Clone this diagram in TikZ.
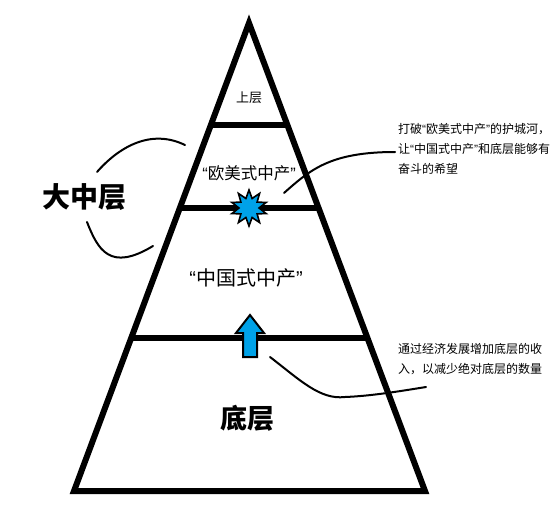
\documentclass[tikz,border=0pt]{standalone}
\usepackage{fontspec}
\setmainfont{Noto Sans CJK SC}
\newfontfamily\cjk{Noto Sans CJK SC}
\newfontfamily\latinq{Liberation Sans}
\newcommand{\oq}{{\latinq “}}
\newcommand{\cq}{{\latinq ”}}
\definecolor{starblue}{HTML}{00A2E8}
\begin{document}
\begin{tikzpicture}[x=1pt,y=-1pt,
  thick line/.style={line width=6pt},
  curve/.style={line width=2pt, line cap=round},
  lbl/.style={inner sep=0pt, font=\cjk},
  note/.style={inner sep=0pt, font=\cjk\fontsize{12}{20}\selectfont, align=left, anchor=north west}]
\useasboundingbox (0,0) rectangle (553,505);
% triangle
\coordinate (A) at (249,23);
\coordinate (BL) at (74,491);
\coordinate (BR) at (425,491);
\draw[thick line, line join=miter, miter limit=20] (A) -- (BR) -- (BL) -- cycle;
% level lines
\coordinate (L1l) at (211,125); \coordinate (L1r) at (287,125);
\coordinate (L2l) at (180,208); \coordinate (L2r) at (318,208);
\coordinate (L3l) at (131,338); \coordinate (L3r) at (367,338);
\draw[thick line] (L1l) -- (L1r);
\draw[thick line] (L2l) -- (L2r);
\draw[thick line] (L3l) -- (L3r);
% labels
\node[lbl, font=\cjk\fontsize{13}{13}\selectfont] (top) at (249,98) {上层};
\node[lbl, font=\cjk\fontsize{16.5}{16.5}\selectfont] (euro) at (249,173) {\oq 欧美式中产\cq};
\node[lbl, font=\cjk\fontsize{20}{20}\selectfont] (china) at (246,278) {\oq 中国式中产\cq};
\node[lbl, font=\cjk\bfseries\fontsize{27}{27}\selectfont] (bottom) at (247,418) {底层};
\node[lbl, font=\cjk\bfseries\fontsize{28}{28}\selectfont] (big) at (84,197) {大中层};
% starburst
\coordinate (S) at (249,208);
\draw[fill=starblue, draw=black, line width=1.6pt, line join=miter, shift={(S)}]
  (90:18) \foreach \i [evaluate=\i as \r using {mod(\i,2)==0 ? 18 : 10}] in {1,...,19} { -- ({90+\i*18}:\r) } -- cycle;
% arrow
\coordinate (Ar) at (250,336);
\draw[fill=starblue, draw=black, line width=2pt, line join=miter]
  (243,357) -- (243,333) -- (236,333) -- (250,315) -- (264,333) -- (257,333) -- (257,357) -- cycle;
% brace curves
\coordinate (u1) at (97,172); \coordinate (u2) at (185,145);
\coordinate (d1) at (87,222); \coordinate (d2) at (153,246);
\draw[curve] (u1) .. controls (118,148) and (150,128) .. (u2);
\draw[curve] (d1) .. controls (98,250) and (110,272) .. (d2);
% callouts
\node[note] (n1) at (398,123) {打破\oq 欧美式中产\cq 的护城河，\\让\oq 中国式中产\cq 和底层能够有\\奋斗的希望};
\node[note] (n2) at (398,343) {通过经济发展增加底层的收\\入，以减少绝对底层的数量};
\coordinate (c1s) at (284,193); \coordinate (c1e) at (395,152);
\coordinate (c2s) at (270,357); \coordinate (c2e) at (426,387);
\draw[curve] (c1s) .. controls (310,170) and (330,152) .. (c1e);
\draw[curve] (c2s) .. controls (300,380) and (320,400) .. (345,397) .. controls (370,396) and (395,392) .. (c2e);
\end{tikzpicture}
\end{document}
